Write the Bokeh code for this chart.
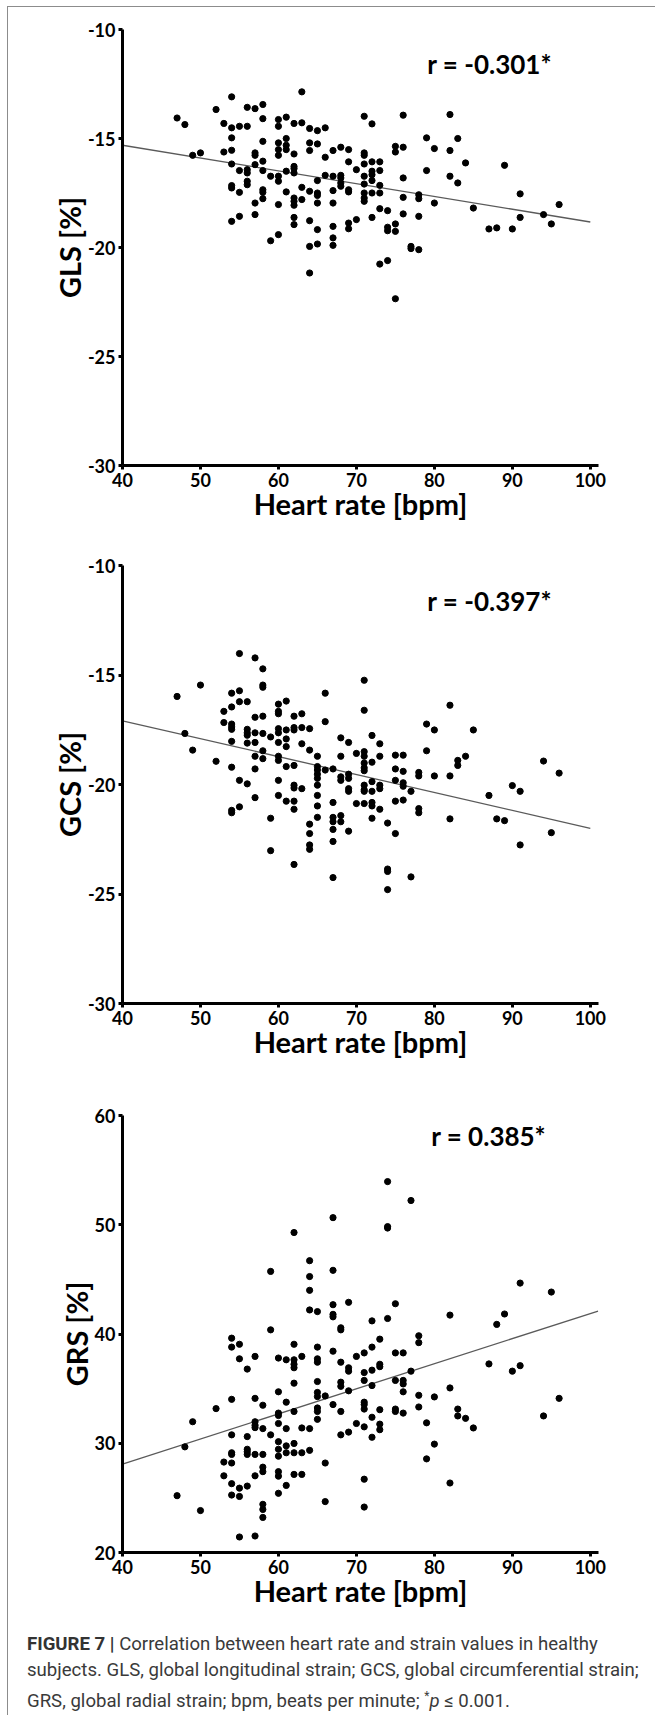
from bokeh.plotting import figure
from bokeh.layouts import column
from bokeh.models import Div, FixedTicker, Label, Range1d
from bokeh.embed import file_html
from bokeh.resources import INLINE

# ---------------- data ----------------
x_ticks = [40, 50, 60, 70, 80, 90, 100]
gls_ticks = [-30, -25, -20, -15, -10]
gcs_ticks = [-30, -25, -20, -15, -10]
grs_ticks = [20, 30, 40, 50, 60]

gls_hr = [47, 48, 49, 50, 52,
          53, 53,
          54, 54, 54, 54, 54, 54, 54, 54,
          55, 55, 55, 55,
          56, 56, 56, 56, 56, 56,
          57, 57, 57, 57, 57, 57,
          58, 58, 58, 58, 58, 58, 58, 58,
          59, 59,
          60, 60, 60, 60, 60, 60, 60, 60, 60,
          61, 61, 61, 61, 61, 61,
          62, 62, 62, 62, 62, 62, 62, 62, 62, 62,
          63, 63, 63, 63,
          64, 64, 64, 64, 64, 64, 64,
          65, 65, 65, 65, 65, 65, 65, 65,
          66, 66, 66,
          67, 67, 67, 67, 67, 67, 67,
          68, 68, 68, 68, 68,
          69, 69, 69, 69, 69, 69,
          70, 70,
          71, 71, 71, 71, 71, 71, 71, 71, 71,
          72, 72, 72, 72, 72, 72, 72,
          73, 73, 73, 73, 73, 73,
          74, 74, 74, 74,
          75, 75, 75, 75, 75,
          76, 76, 76, 76, 76,
          77, 77,
          78, 78, 78, 78,
          79, 79,
          80, 80,
          82, 82, 82,
          83, 83,
          84, 85, 87, 88, 89, 90,
          91, 91,
          94, 95, 96]
gls_val = [-14.06, -14.36, -15.77, -15.66, -13.67,
           -14.31, -15.62,
           -13.09, -14.51, -14.97, -15.54, -16.17, -17.16, -17.27, -18.80,
           -14.44, -16.47, -17.47, -18.57,
           -13.57, -14.44, -16.43, -16.58, -16.96, -17.12,
           -13.63, -15.66, -15.77, -16.20, -17.96, -18.49,
           -13.44, -14.09, -15.13, -16.04, -16.47, -17.35, -17.47, -17.76,
           -16.73, -19.69,
           -14.13, -14.44, -15.20, -15.51, -15.77, -16.73, -16.96, -18.03, -19.41,
           -14.02, -15.00, -15.31, -15.51, -16.50, -17.45,
           -14.31, -15.71, -16.28, -16.38, -16.58, -17.73, -17.88, -18.06, -18.62, -18.95,
           -12.86, -14.28, -17.24, -17.80,
           -14.54, -15.20, -15.55, -17.42, -18.77, -19.95, -21.17,
           -14.64, -15.25, -16.93, -17.50, -17.61, -17.96, -19.18, -19.84,
           -14.51, -15.86, -16.69,
           -15.55, -16.73, -17.39, -17.96, -19.03, -19.56, -19.90,
           -15.40, -16.69, -16.81, -17.04, -17.19,
           -15.51, -16.07, -17.35, -17.45, -18.88, -19.14,
           -16.43, -18.72,
           -13.98, -15.66, -15.77, -16.17, -16.73, -17.09, -17.50, -17.73, -17.88,
           -14.33, -16.07, -16.50, -16.66, -16.93, -17.50, -18.62,
           -16.07, -16.47, -17.15, -17.50, -18.22, -20.76,
           -18.31, -19.07, -19.23, -20.60,
           -15.36, -15.62, -18.92, -19.26, -22.35,
           -13.93, -15.40, -16.81, -17.70, -18.46,
           -19.95, -20.05,
           -17.58, -17.76, -18.57, -20.10,
           -14.97, -16.47,
           -15.46, -17.96,
           -13.90, -15.55, -16.73,
           -15.00, -17.04,
           -16.12, -18.19, -19.15, -19.10, -16.23, -19.15,
           -17.54, -18.62,
           -18.49, -18.92, -18.03]

gcs_hr = [47, 48, 49, 50, 52,
          53, 53,
          54, 54, 54, 54, 54, 54, 54, 54, 54,
          55, 55, 55, 55, 55,
          56, 56, 56, 56, 56, 56,
          57, 57, 57, 57, 57, 57, 57,
          58, 58, 58, 58, 58, 58, 58,
          59, 59, 59,
          60, 60, 60, 60, 60, 60, 60, 60, 60, 60,
          61, 61, 61, 61, 61, 61,
          62, 62, 62, 62, 62, 62, 62, 62, 62,
          63, 63, 63, 63,
          64, 64, 64, 64, 64, 64,
          65, 65, 65, 65, 65, 65, 65, 65, 65,
          66, 66, 66,
          67, 67, 67, 67, 67, 67, 67,
          68, 68, 68, 68, 68, 68,
          69, 69, 69, 69, 69, 69,
          70, 70,
          71, 71, 71, 71, 71, 71, 71, 71, 71, 71, 71,
          72, 72, 72, 72, 72, 72, 72,
          73, 73, 73, 73, 73,
          74, 74, 74, 74,
          75, 75, 75, 75, 75,
          76, 76, 76, 76, 76,
          77, 77,
          78, 78, 78, 78,
          79, 79,
          80, 80,
          82, 82, 82,
          83, 83,
          84, 85, 87, 88, 89, 90,
          91, 91,
          94, 95, 96]
gcs_val = [-15.98, -17.67, -18.43, -15.46, -18.94,
           -16.66, -17.17,
           -15.83, -16.46, -17.24, -17.37, -17.48, -18.03, -19.21, -21.18, -21.29,
           -14.02, -15.72, -16.22, -19.81, -21.02,
           -16.22, -17.48, -17.64, -17.75, -18.11, -19.97,
           -14.22, -16.93, -17.64, -18.08, -18.71, -19.29, -20.60,
           -14.72, -15.46, -15.56, -16.88, -17.67, -18.46, -18.82,
           -17.83, -21.54, -23.02,
           -16.33, -16.66, -16.77, -17.45, -17.64, -18.08, -18.71, -18.90, -19.81, -20.50,
           -16.19, -17.51, -17.92, -18.27, -19.18, -20.76,
           -16.88, -17.40, -17.51, -19.13, -20.03, -20.16, -20.76, -21.13, -23.65,
           -16.77, -17.40, -18.14, -20.19,
           -17.45, -18.43, -21.81, -22.24, -22.76, -22.96,
           -18.71, -19.18, -19.34, -19.53, -19.72, -20.03, -20.50, -20.98, -21.50,
           -15.83, -17.13, -19.34,
           -19.29, -20.82, -21.50, -21.70, -22.05, -22.60, -24.25,
           -17.87, -18.71, -19.65, -19.81, -21.42, -21.70,
           -18.08, -19.53, -19.72, -20.19, -20.31, -22.13,
           -18.58, -20.87,
           -15.24, -16.61, -18.50, -18.71, -19.02, -19.24, -19.37, -20.03, -20.24, -20.31, -20.87,
           -17.76, -18.98, -19.87, -20.31, -20.82, -20.98, -21.54,
           -18.14, -18.71, -20.03, -20.19, -21.13,
           -21.76, -23.86, -23.97, -24.80,
           -18.66, -19.29, -19.81, -20.76, -22.24,
           -18.66, -19.40, -19.92, -20.08, -20.71,
           -20.31, -24.22,
           -19.45, -19.61, -21.10, -21.29,
           -17.24, -18.46,
           -17.51, -19.61,
           -16.38, -19.61, -21.57,
           -18.90, -19.13,
           -18.71, -17.51, -20.50, -21.57, -21.65, -20.05,
           -20.31, -22.76,
           -18.93, -22.20, -19.48]

grs_hr = [47, 48, 49, 50, 52,
          53, 53,
          54, 54, 54, 54, 54, 54, 54, 54, 54,
          55, 55, 55, 55, 55,
          56, 56, 56, 56, 56, 56,
          57, 57, 57, 57, 57, 57, 57, 57,
          58, 58, 58, 58, 58, 58, 58, 58,
          59, 59, 59,
          60, 60, 60, 60, 60, 60, 60, 60, 60, 60, 60,
          61, 61, 61, 61, 61, 61,
          62, 62, 62, 62, 62, 62, 62, 62, 62, 62,
          63, 63, 63, 63,
          64, 64, 64, 64, 64, 64,
          65, 65, 65, 65, 65, 65, 65, 65, 65, 65,
          66, 66, 66,
          67, 67, 67, 67, 67, 67, 67,
          68, 68, 68, 68, 68, 68, 68,
          69, 69, 69, 69, 69,
          70, 70,
          71, 71, 71, 71, 71, 71, 71, 71, 71,
          72, 72, 72, 72, 72, 72,
          73, 73, 73, 73, 73, 73,
          74, 74, 74, 74,
          75, 75, 75, 75, 75,
          76, 76, 76, 76, 76,
          77, 77,
          78, 78, 78, 78,
          79, 79,
          80, 80,
          82, 82, 82,
          83, 83,
          84, 85, 87, 88, 89, 90,
          91, 91,
          94, 95, 96]
grs_val = [25.20, 29.67, 31.97, 23.84, 33.17,
           28.28, 27.02,
           39.62, 38.80, 34.02, 30.77, 29.13, 28.98, 28.19, 26.30, 25.26,
           39.06, 37.73, 25.89, 25.13, 21.42,
           36.79, 30.61, 29.45, 29.23, 28.98, 26.08,
           37.95, 34.11, 31.97, 31.65, 31.43, 28.98, 27.02, 21.51,
           33.48, 31.34, 28.98, 27.81, 27.40, 24.41, 23.94, 23.21,
           45.73, 40.38, 30.77,
           37.80, 34.71, 32.76, 32.54, 31.81, 30.14, 29.45, 28.82, 27.40, 26.99, 25.42,
           37.64, 33.76, 31.34, 29.76, 29.13, 26.14,
           49.29, 39.06, 37.64, 37.23, 36.91, 35.50, 32.91, 29.98, 29.13, 27.15,
           37.95, 31.40, 29.13, 27.15,
           46.71, 45.26, 44.00, 42.20, 31.34, 29.35,
           42.05, 38.80, 37.73, 37.42, 35.65, 34.65, 34.27, 33.23, 32.91, 32.19,
           34.33, 28.19, 24.66,
           50.65, 45.83, 42.68, 41.80, 41.57, 38.43, 33.54,
           40.57, 40.38, 37.42, 35.59, 35.21, 32.91, 30.77,
           42.90, 36.91, 36.60, 34.80, 31.02,
           37.95, 31.81,
           38.27, 36.47, 35.75, 33.76, 33.54, 33.13, 31.50, 26.71, 24.16,
           41.20, 38.80, 36.69, 35.28, 32.38, 30.55,
           39.53, 37.23, 37.01, 33.07, 31.75, 31.24,
           53.95, 49.83, 49.70, 41.42,
           42.77, 38.27, 35.75, 33.13, 32.91,
           38.27, 35.75, 35.43, 34.71, 32.76,
           52.22, 36.60,
           39.84, 39.21, 34.39, 33.32,
           31.87, 28.57,
           34.24, 29.92,
           41.73, 35.06, 26.36,
           33.13, 32.50,
           32.28, 31.40, 37.26, 40.88, 41.83, 36.60,
           44.66, 37.10,
           32.50, 43.84, 34.11]

# regression lines (end points)
gls_fit_x = [40, 100]
gls_fit_y = [-15.31, -18.83]
gcs_fit_x = [40, 100]
gcs_fit_y = [-17.09, -22.00]
grs_fit_x = [40, 101]
grs_fit_y = [28.1, 42.1]

r_texts = ["r = -0.301*", "r = -0.397*", "r = 0.385*"]
x_label = "Heart rate [bpm]"
y_labels = ["GLS [%]", "GCS [%]", "GRS [%]"]

FONT = "Lato"


def make_panel(hr, vals, fit_x, fit_y, ylab, yr, yticks, rtext, rpos, height, top, bottom):
    p = figure(width=637, height=height,
               x_range=Range1d(40, 101.05), y_range=Range1d(yr[0], yr[1]),
               output_backend="svg", toolbar_location=None,
               min_border_left=114, min_border_right=47,
               min_border_top=top, min_border_bottom=bottom)
    p.outline_line_color = None
    p.grid.visible = False
    p.background_fill_color = "white"
    p.border_fill_color = "white"

    p.line(fit_x, fit_y, line_color="#5a5a5a", line_width=1.3)
    p.scatter(hr, vals, size=6.2, fill_color="black", line_color="black")

    p.xaxis.ticker = FixedTicker(ticks=x_ticks)
    p.yaxis.ticker = FixedTicker(ticks=yticks)
    p.yaxis.major_label_overrides = {t: str(t) for t in yticks}
    for ax in (p.xaxis[0], p.yaxis[0]):
        ax.axis_line_width = 3
        ax.axis_line_color = "black"
        ax.major_tick_line_width = 3
        ax.major_tick_line_color = "black"
        ax.major_tick_out = 4
        ax.major_tick_in = 0
        ax.minor_tick_out = 0
        ax.minor_tick_in = 0
        ax.major_label_text_font = FONT
        ax.major_label_text_font_style = "bold"
        ax.major_label_text_font_size = "18px"
        ax.major_label_text_color = "black"
        ax.axis_label_text_font = FONT
        ax.axis_label_text_font_style = "bold"
        ax.axis_label_text_font_size = "29px"
        ax.axis_label_text_color = "black"
        ax.major_label_standoff = 3
    p.xaxis.axis_label_standoff = -4
    p.yaxis.axis_label_standoff = -2
    p.xaxis.axis_label = x_label
    p.yaxis.axis_label = ylab

    p.add_layout(Label(x=rpos[0], y=rpos[1], text=rtext,
                       text_font=FONT, text_font_style="bold",
                       text_font_size="26px", text_color="black",
                       text_align="left", text_baseline="middle"))
    return p


p1 = make_panel(gls_hr, gls_val, gls_fit_x, gls_fit_y, y_labels[0], (-30, -10),
                gls_ticks, r_texts[0], (79.1, -11.6), 538, 22, 80)
p2 = make_panel(gcs_hr, gcs_val, gcs_fit_x, gcs_fit_y, y_labels[1], (-30, -10),
                gcs_ticks, r_texts[1], (79.1, -11.64), 550, 20, 92)
p3 = make_panel(grs_hr, grs_val, grs_fit_x, grs_fit_y, y_labels[2], (20, 60),
                grs_ticks, r_texts[2], (79.6, 58.1), 531, 20, 74)

caption = Div(
    text=('<div style="font-family:Roboto,sans-serif;font-size:18.6px;line-height:26px;'
          'color:#3a3a3a;white-space:nowrap;padding-left:14px;">'
          '<b style="font-weight:700;color:#333">FIGURE 7 |</b> Correlation between heart rate and strain values in healthy<br>'
          'subjects. GLS, global longitudinal strain; GCS, global circumferential strain;<br>'
          'GRS, global radial strain; bpm, beats per minute; <sup style="font-size:12px">*</sup><i>p</i> &le; 0.001.'
          '</div>'),
    width=637, height=80)

layout = column(p1, p2, p3, caption, spacing=0,
                styles={"border": "1.5px solid #8c8c8c", "background-color": "white",
                        "margin-left": "7px", "margin-top": "6px"})

open("out.html", "w").write(file_html(layout, INLINE))
